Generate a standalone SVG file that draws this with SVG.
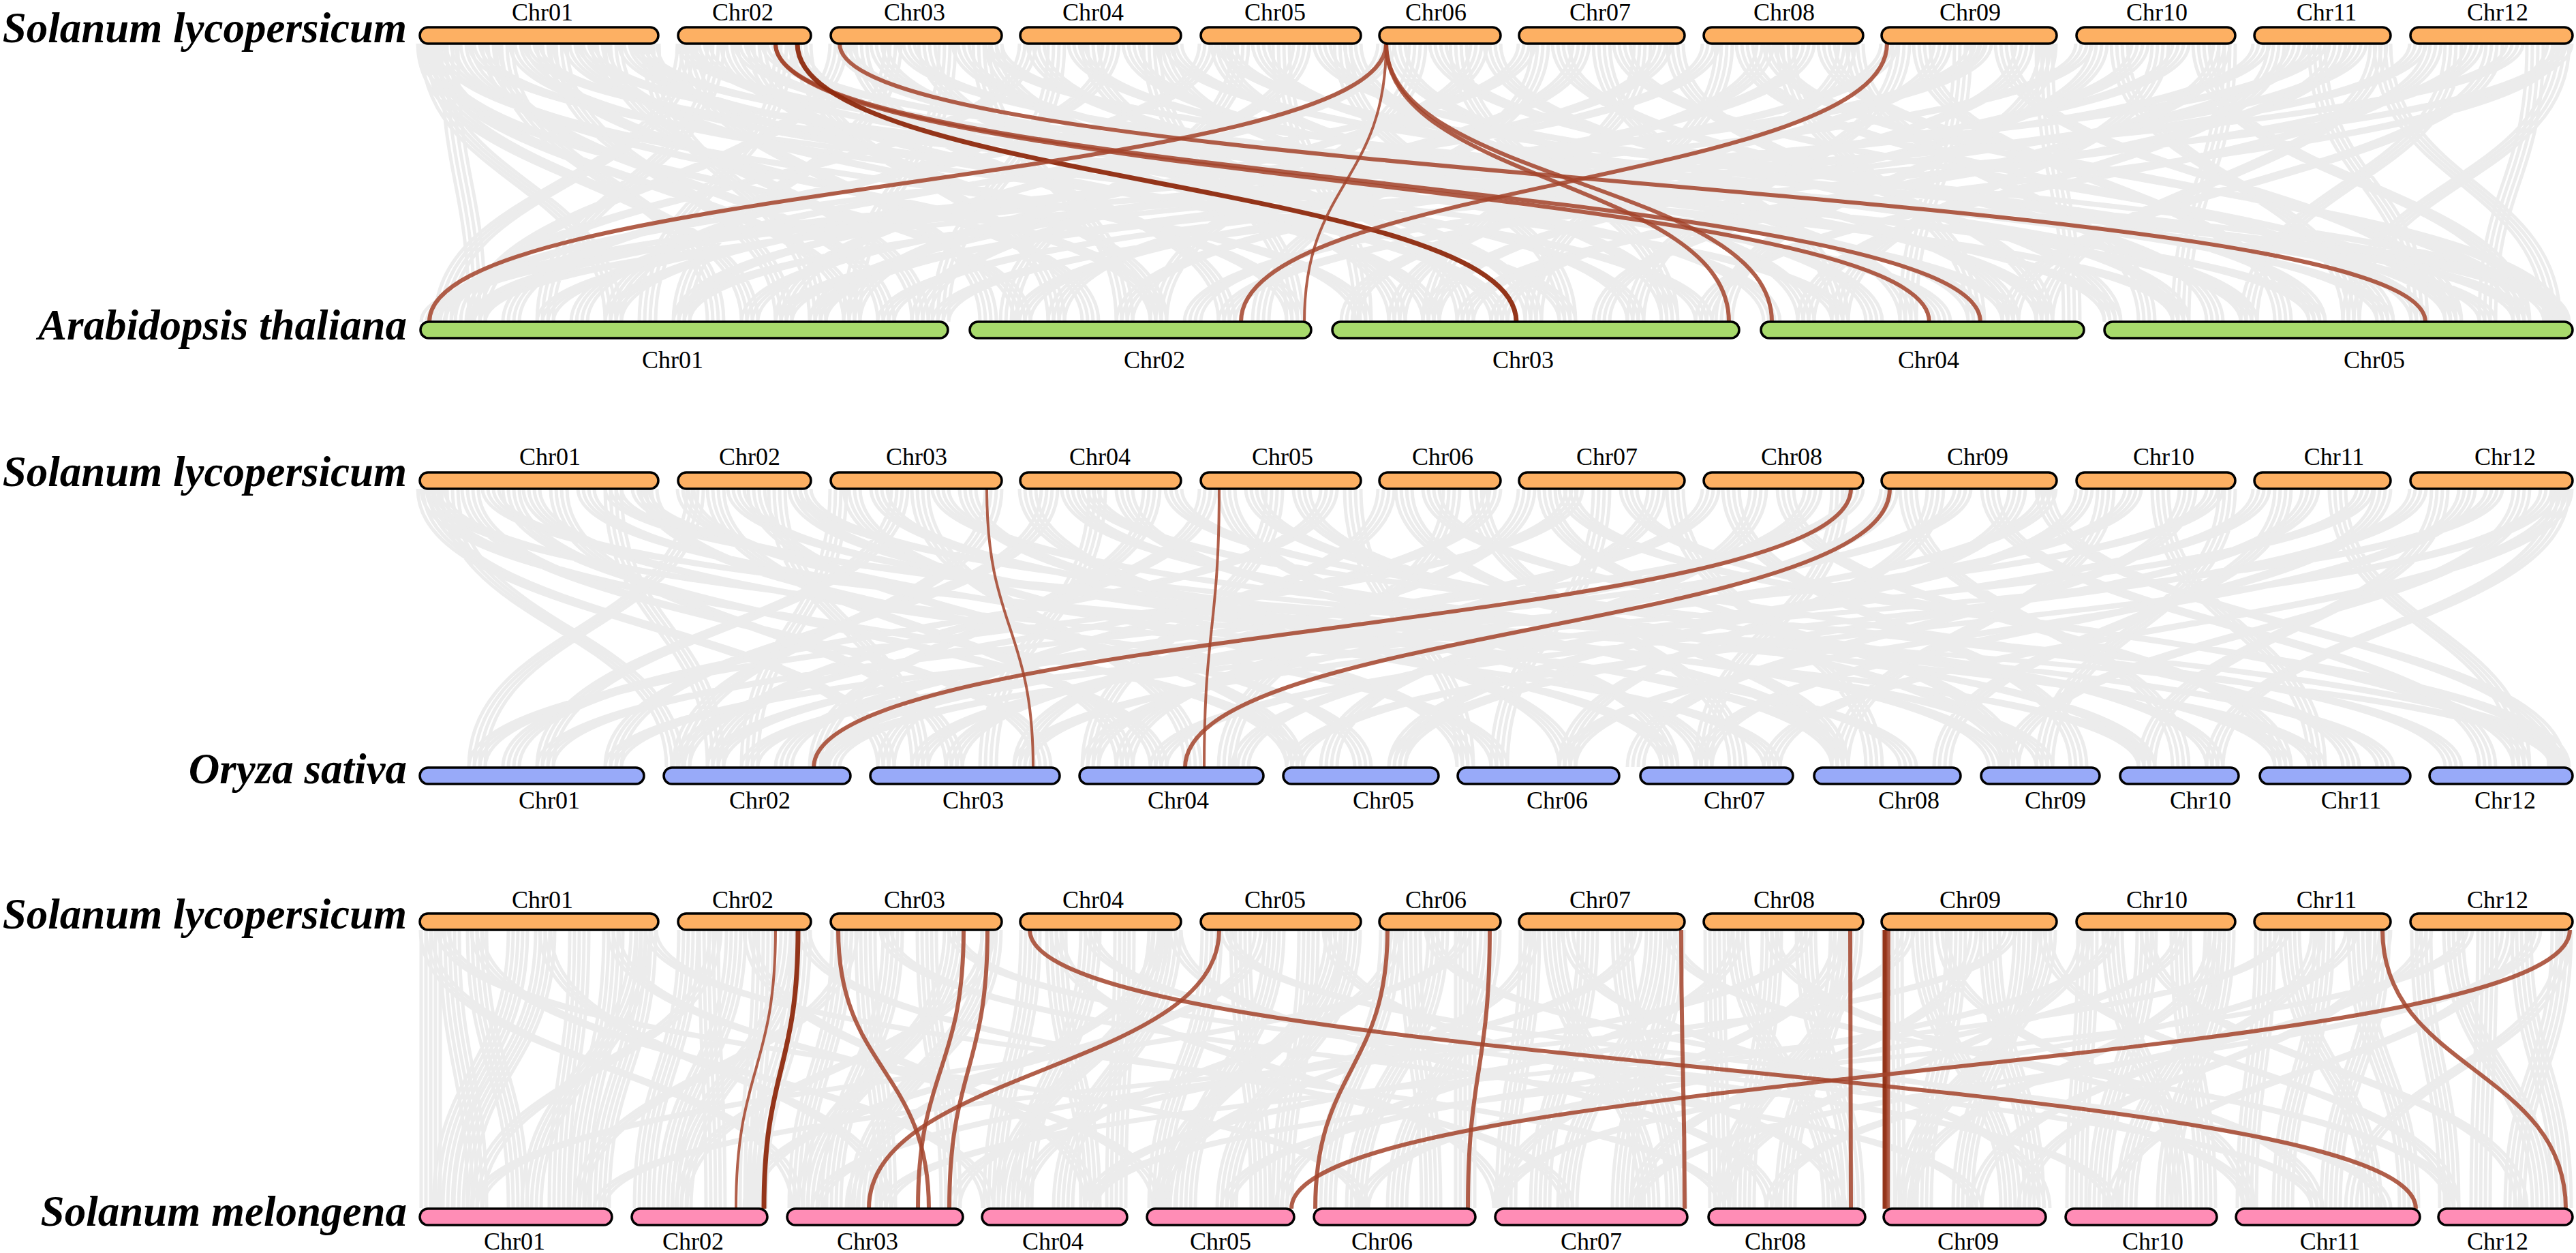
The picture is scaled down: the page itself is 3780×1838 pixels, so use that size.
<svg xmlns="http://www.w3.org/2000/svg" width="3780" height="1838" viewBox="0 0 3780 1838">
<style>
.g{fill:none;stroke:#ececec;stroke-width:5}
.b{fill:none;stroke:#a3432a;stroke-opacity:.85;stroke-width:6}
.bt{stroke-width:4}
.bd{stroke:#8e2a0e;stroke-opacity:.95;stroke-width:7}
.sl{fill:#fdb063;stroke:#000;stroke-width:3.5}
.at{fill:#a8da6c;stroke:#000;stroke-width:3.5}
.os{fill:#98aaf9;stroke:#000;stroke-width:3.5}
.sm{fill:#ff8db6;stroke:#000;stroke-width:3.5}
.cl{font-family:"Liberation Serif","Times New Roman",serif;font-size:36px;text-anchor:middle;fill:#000}
.sp{font-family:"Liberation Serif","Times New Roman",serif;font-size:63px;font-weight:bold;font-style:italic;text-anchor:end;fill:#000}
</style>
<defs>
<path id="g1" class="g" d="M625 0C625 204 1100 204 1100 408M625 0C625 204 1500 204 1500 408M630 0C630 204 900 204 900 408M640 0C640 204 1250 204 1250 408M650 0C650 204 2000 204 2000 408M660 0C660 204 700 204 700 408M680 0C680 204 1700 204 1700 408M700 0C700 204 2700 204 2700 408M720 0C720 204 1300 204 1300 408M740 0C740 204 1050 204 1050 408M760 0C760 204 2300 204 2300 408M780 0C780 204 3200 204 3200 408M800 0C800 204 1600 204 1600 408M820 0C820 204 1150 204 1150 408M840 0C840 204 2500 204 2500 408M860 0C860 204 3400 204 3400 408M880 0C880 204 1900 204 1900 408M900 0C900 204 1350 204 1350 408M920 0C920 204 2850 204 2850 408M940 0C940 204 3650 204 3650 408M955 0C955 204 1200 204 1200 408M952 0C952 204 2200 204 2200 408M1006 0C1006 204 650 204 650 408M1010 0C1010 204 1450 204 1450 408M1030 0C1030 204 2950 204 2950 408M1050 0C1050 204 800 204 800 408M1070 0C1070 204 2100 204 2100 408M1090 0C1090 204 3300 204 3300 408M1110 0C1110 204 1700 204 1700 408M1130 0C1130 204 3700 204 3700 408M1150 0C1150 204 950 204 950 408M1170 0C1170 204 2400 204 2400 408M1178 0C1178 204 1550 204 1550 408M1230 0C1230 204 700 204 700 408M1240 0C1240 204 3100 204 3100 408M1260 0C1260 204 1800 204 1800 408M1290 0C1290 204 2600 204 2600 408M1310 0C1310 204 1000 204 1000 408M1330 0C1330 204 3500 204 3500 408M1360 0C1360 204 2050 204 2050 408M1390 0C1390 204 1250 204 1250 408M1410 0C1410 204 2900 204 2900 408M1440 0C1440 204 1650 204 1650 408M1458 0C1458 204 3745 204 3745 408M1458 0C1458 204 2250 204 2250 408M1508 0C1508 204 680 204 680 408M1520 0C1520 204 2750 204 2750 408M1550 0C1550 204 1380 204 1380 408M1580 0C1580 204 3300 204 3300 408M1600 0C1600 204 2150 204 2150 408M1630 0C1630 204 900 204 900 408M1660 0C1660 204 3000 204 3000 408M1690 0C1690 204 1900 204 1900 408M1710 0C1710 204 2450 204 2450 408M1722 0C1722 204 3600 204 3600 408M1772 0C1772 204 750 204 750 408M1790 0C1790 204 2650 204 2650 408M1820 0C1820 204 1480 204 1480 408M1850 0C1850 204 3200 204 3200 408M1880 0C1880 204 2000 204 2000 408M1910 0C1910 204 1150 204 1150 408M1940 0C1940 204 3550 204 3550 408M1970 0C1970 204 2300 204 2300 408M1985 0C1985 204 2800 204 2800 408M2034 0C2034 204 850 204 850 408M2050 0C2050 204 2950 204 2950 408M2080 0C2080 204 1700 204 1700 408M2110 0C2110 204 3400 204 3400 408M2140 0C2140 204 2450 204 2450 408M2170 0C2170 204 1250 204 1250 408M2190 0C2190 204 3100 204 3100 408M2240 0C2240 204 650 204 650 408M2260 0C2260 204 1850 204 1850 408M2290 0C2290 204 3250 204 3250 408M2320 0C2320 204 1350 204 1350 408M2350 0C2350 204 2700 204 2700 408M2380 0C2380 204 3600 204 3600 408M2410 0C2410 204 2100 204 2100 408M2440 0C2440 204 1000 204 1000 408M2458 0C2458 204 3000 204 3000 408M2510 0C2510 204 900 204 900 408M2530 0C2530 204 2250 204 2250 408M2560 0C2560 204 3500 204 3500 408M2590 0C2590 204 1550 204 1550 408M2620 0C2620 204 2900 204 2900 408M2650 0C2650 204 1200 204 1200 408M2680 0C2680 204 3700 204 3700 408M2710 0C2710 204 2050 204 2050 408M2722 0C2722 204 3150 204 3150 408M2772 0C2772 204 1100 204 1100 408M2790 0C2790 204 2400 204 2400 408M2820 0C2820 204 3350 204 3350 408M2850 0C2850 204 1650 204 1650 408M2880 0C2880 204 2800 204 2800 408M2910 0C2910 204 700 204 700 408M2940 0C2940 204 3600 204 3600 408M2970 0C2970 204 1980 204 1980 408M3000 0C3000 204 3040 204 3040 408M3005 0C3005 204 2530 204 2530 408M3058 0C3058 204 800 204 800 408M3080 0C3080 204 2100 204 2100 408M3110 0C3110 204 3450 204 3450 408M3140 0C3140 204 1500 204 1500 408M3170 0C3170 204 2700 204 2700 408M3200 0C3200 204 1200 204 1200 408M3230 0C3230 204 3700 204 3700 408M3260 0C3260 204 2350 204 2350 408M3268 0C3268 204 3200 204 3200 408M3318 0C3318 204 1000 204 1000 408M3340 0C3340 204 2650 204 2650 408M3370 0C3370 204 1750 204 1750 408M3400 0C3400 204 3550 204 3550 408M3430 0C3430 204 2200 204 2200 408M3460 0C3460 204 1300 204 1300 408M3490 0C3490 204 3000 204 3000 408M3496 0C3496 204 3745 204 3745 408M3548 0C3548 204 1150 204 1150 408M3570 0C3570 204 2500 204 2500 408M3600 0C3600 204 3300 204 3300 408M3630 0C3630 204 1800 204 1800 408M3660 0C3660 204 2950 204 2950 408M3690 0C3690 204 700 204 700 408M3720 0C3720 204 3650 204 3650 408M3750 0C3750 204 2150 204 2150 408M3758 0C3758 204 3450 204 3450 408M3762 0C3762 204 1380 204 1380 408M1006 0C1006 204 3755 204 3755 408M1800 0C1800 204 3758 204 3758 408M2600 0C2600 204 3750 204 3750 408M3400 0C3400 204 630 204 630 408M2900 0C2900 204 640 204 640 408"/>
<path id="g2" class="g" d="M625 0C625 204 1300 204 1300 408M630 0C630 204 1900 204 1900 408M640 0C640 204 2600 204 2600 408M660 0C660 204 990 204 990 408M690 0C690 204 1530 204 1530 408M720 0C720 204 3150 204 3150 408M750 0C750 204 1700 204 1700 408M780 0C780 204 2200 204 2200 408M820 0C820 204 1400 204 1400 408M860 0C860 204 2800 204 2800 408M900 0C900 204 1050 204 1050 408M940 0C940 204 3400 204 3400 408M952 0C952 204 2000 204 2000 408M1006 0C1006 204 2450 204 2450 408M1020 0C1020 204 700 204 700 408M1050 0C1050 204 1650 204 1650 408M1080 0C1080 204 3000 204 3000 408M1110 0C1110 204 1900 204 1900 408M1140 0C1140 204 1350 204 1350 408M1170 0C1170 204 2700 204 2700 408M1178 0C1178 204 3500 204 3500 408M1230 0C1230 204 1100 204 1100 408M1250 0C1250 204 2150 204 2150 408M1290 0C1290 204 2930 204 2930 408M1320 0C1320 204 800 204 800 408M1350 0C1350 204 1750 204 1750 408M1380 0C1380 204 3350 204 3350 408M1420 0C1420 204 2500 204 2500 408M1458 0C1458 204 1000 204 1000 408M1508 0C1508 204 2300 204 2300 408M1540 0C1540 204 900 204 900 408M1570 0C1570 204 3150 204 3150 408M1610 0C1610 204 1450 204 1450 408M1650 0C1650 204 2700 204 2700 408M1690 0C1690 204 1200 204 1200 408M1722 0C1722 204 3600 204 3600 408M1772 0C1772 204 1050 204 1050 408M1800 0C1800 204 2450 204 2450 408M1840 0C1840 204 3250 204 3250 408M1870 0C1870 204 1600 204 1600 408M1910 0C1910 204 2950 204 2950 408M1950 0C1950 204 750 204 750 408M1985 0C1985 204 2150 204 2150 408M2034 0C2034 204 1300 204 1300 408M2060 0C2060 204 2700 204 2700 408M2100 0C2100 204 3450 204 3450 408M2130 0C2130 204 1800 204 1800 408M2170 0C2170 204 2550 204 2550 408M2190 0C2190 204 1000 204 1000 408M2240 0C2240 204 1500 204 1500 408M2270 0C2270 204 2950 204 2950 408M2310 0C2310 204 700 204 700 408M2350 0C2350 204 2200 204 2200 408M2390 0C2390 204 3700 204 3700 408M2430 0C2430 204 1650 204 1650 408M2458 0C2458 204 2750 204 2750 408M2510 0C2510 204 1150 204 1150 408M2540 0C2540 204 3050 204 3050 408M2580 0C2580 204 1950 204 1950 408M2620 0C2620 204 3350 204 3350 408M2660 0C2660 204 1400 204 1400 408M2700 0C2700 204 2500 204 2500 408M2722 0C2722 204 800 204 800 408M2772 0C2772 204 1600 204 1600 408M2800 0C2800 204 3200 204 3200 408M2840 0C2840 204 2300 204 2300 408M2880 0C2880 204 1050 204 1050 408M2920 0C2920 204 3650 204 3650 408M2960 0C2960 204 2050 204 2050 408M3005 0C3005 204 1350 204 1350 408M3058 0C3058 204 1820 204 1820 408M3090 0C3090 204 2700 204 2700 408M3130 0C3130 204 1200 204 1200 408M3170 0C3170 204 3400 204 3400 408M3210 0C3210 204 2400 204 2400 408M3250 0C3250 204 900 204 900 408M3268 0C3268 204 3000 204 3000 408M3318 0C3318 204 1500 204 1500 408M3350 0C3350 204 2850 204 2850 408M3390 0C3390 204 2050 204 2050 408M3430 0C3430 204 3700 204 3700 408M3470 0C3470 204 1100 204 1100 408M3496 0C3496 204 2500 204 2500 408M3548 0C3548 204 1700 204 1700 408M3580 0C3580 204 3150 204 3150 408M3620 0C3620 204 2300 204 2300 408M3660 0C3660 204 1220 204 1220 408M3700 0C3700 204 2950 204 2950 408M3740 0C3740 204 1900 204 1900 408M3758 0C3758 204 3250 204 3250 408M3762 0C3762 204 2600 204 2600 408M900 0C900 204 3755 204 3755 408M1600 0C1600 204 3755 204 3755 408M2300 0C2300 204 3758 204 3758 408M3000 0C3000 204 3752 204 3752 408"/>
<path id="g3s" class="g" d="M632 0C632 204 632 204 632 408M660 0C660 204 700 204 700 408M700 0C700 204 760 204 760 408M760 0C760 204 650 204 650 408M800 0C800 204 680 204 680 408M850 0C850 204 820 204 820 408M900 0C900 204 850 204 850 408M948 0C948 204 880 204 880 408M940 0C940 204 780 204 780 408M1010 0C1010 204 945 204 945 408M1040 0C1040 204 1050 204 1050 408M1080 0C1080 204 980 204 980 408M1120 0C1120 204 1100 204 1100 408M1160 0C1160 204 1000 204 1000 408M1175 0C1175 204 1110 204 1110 408M1235 0C1235 204 1172 204 1172 408M1270 0C1270 204 1300 204 1300 408M1310 0C1310 204 1220 204 1220 408M1360 0C1360 204 1395 204 1395 408M1400 0C1400 204 1185 204 1185 408M1455 0C1455 204 1260 204 1260 408M1512 0C1512 204 1458 204 1458 408M1550 0C1550 204 1600 204 1600 408M1600 0C1600 204 1500 204 1500 408M1650 0C1650 204 1638 204 1638 408M1700 0C1700 204 1472 204 1472 408M1718 0C1718 204 1560 204 1560 408M1778 0C1778 204 1700 204 1700 408M1820 0C1820 204 1850 204 1850 408M1870 0C1870 204 1740 204 1740 408M1920 0C1920 204 1882 204 1882 408M1960 0C1960 204 1710 204 1710 408M1982 0C1982 204 1800 204 1800 408M2040 0C2040 204 1945 204 1945 408M2070 0C2070 204 2100 204 2100 408M2110 0C2110 204 1990 204 1990 408M2150 0C2150 204 2150 204 2150 408M2187 0C2187 204 2050 204 2050 408M2245 0C2245 204 2210 204 2210 408M2280 0C2280 204 2420 204 2420 408M2330 0C2330 204 2260 204 2260 408M2380 0C2380 204 2460 204 2460 408M2430 0C2430 204 2300 204 2300 408M2457 0C2457 204 2380 204 2380 408M2516 0C2516 204 2523 204 2523 408M2550 0C2550 204 2690 204 2690 408M2600 0C2600 204 2560 204 2560 408M2650 0C2650 204 2720 204 2720 408M2700 0C2700 204 2620 204 2620 408M2718 0C2718 204 2530 204 2530 408M2777 0C2777 204 2780 204 2780 408M2820 0C2820 204 2950 204 2950 408M2870 0C2870 204 2820 204 2820 408M2920 0C2920 204 2985 204 2985 408M2970 0C2970 204 2880 204 2880 408M3002 0C3002 204 2795 204 2795 408M3063 0C3063 204 3047 204 3047 408M3100 0C3100 204 3200 204 3200 408M3150 0C3150 204 3080 204 3080 408M3200 0C3200 204 3237 204 3237 408M3250 0C3250 204 3120 204 3120 408M3264 0C3264 204 3180 204 3180 408M3324 0C3324 204 3297 204 3297 408M3360 0C3360 204 3480 204 3480 408M3410 0C3410 204 3350 204 3350 408M3460 0C3460 204 3535 204 3535 408M3492 0C3492 204 3420 204 3420 408M3553 0C3553 204 3594 204 3594 408M3600 0C3600 204 3730 204 3730 408M3650 0C3650 204 3640 204 3640 408M3700 0C3700 204 3759 204 3759 408M3759 0C3759 204 3690 204 3690 408"/>
<path id="g3x" class="g" d="M625 0C625 204 1170 204 1170 408M700 0C700 204 1450 204 1450 408M650 0C650 204 2000 204 2000 408M800 0C800 204 1300 204 1300 408M900 0C900 204 1700 204 1700 408M955 0C955 204 2530 204 2530 408M1050 0C1050 204 700 204 700 408M1100 0C1100 204 1600 204 1600 408M1180 0C1180 204 2300 204 2300 408M1250 0C1250 204 850 204 850 408M1300 0C1300 204 2900 204 2900 408M1400 0C1400 204 3400 204 3400 408M1450 0C1450 204 1000 204 1000 408M1550 0C1550 204 2200 204 2200 408M1600 0C1600 204 3100 204 3100 408M1700 0C1700 204 1250 204 1250 408M1725 0C1725 204 2600 204 2600 408M1800 0C1800 204 3500 204 3500 408M1850 0C1850 204 1100 204 1100 408M1950 0C1950 204 2700 204 2700 408M2050 0C2050 204 1500 204 1500 408M2100 0C2100 204 3300 204 3300 408M2150 0C2150 204 700 204 700 408M2250 0C2250 204 1700 204 1700 408M2300 0C2300 204 3000 204 3000 408M2400 0C2400 204 1400 204 1400 408M2450 0C2450 204 3600 204 3600 408M2550 0C2550 204 1880 204 1880 408M2600 0C2600 204 3400 204 3400 408M2650 0C2650 204 1200 204 1200 408M2700 0C2700 204 2200 204 2200 408M2800 0C2800 204 1600 204 1600 408M2850 0C2850 204 3300 204 3300 408M2900 0C2900 204 2400 204 2400 408M2950 0C2950 204 880 204 880 408M3000 0C3000 204 3600 204 3600 408M3060 0C3060 204 2530 204 2530 408M3100 0C3100 204 1800 204 1800 408M3150 0C3150 204 3700 204 3700 408M3200 0C3200 204 2000 204 2000 408M3250 0C3250 204 2800 204 2800 408M3350 0C3350 204 1300 204 1300 408M3400 0C3400 204 2900 204 2900 408M3450 0C3450 204 2200 204 2200 408M3500 0C3500 204 2970 204 2970 408M3560 0C3560 204 2600 204 2600 408M3620 0C3620 204 1600 204 1600 408M3680 0C3680 204 3100 204 3100 408M3720 0C3720 204 2400 204 2400 408M3765 0C3765 204 3450 204 3450 408"/>
</defs>
<rect x="0" y="0" width="3780" height="1838" fill="#fff"/>
<g id="connectors">
<g id="gray-lines">
<use href="#g1" transform="translate(-12,64)"/>
<use href="#g1" transform="translate(-4,64)"/>
<use href="#g1" transform="translate(4,64)"/>
<use href="#g1" transform="translate(12,64)"/>
<use href="#g2" transform="translate(-12,717)"/>
<use href="#g2" transform="translate(-4,717)"/>
<use href="#g2" transform="translate(4,717)"/>
<use href="#g2" transform="translate(12,717)"/>
<use href="#g3s" transform="translate(-14,1364)"/>
<use href="#g3s" transform="translate(-7,1364)"/>
<use href="#g3s" transform="translate(0,1364)"/>
<use href="#g3s" transform="translate(7,1364)"/>
<use href="#g3s" transform="translate(14,1364)"/>
<use href="#g3x" transform="translate(-8,1364)"/>
<use href="#g3x" transform="translate(0,1364)"/>
<use href="#g3x" transform="translate(8,1364)"/>
</g>
<g id="highlight-lines">
<path class="b" d="M1138 64C1138 268 2831 268 2831 472"/>
<path class="b" d="M1138 64C1138 268 2906 268 2906 472"/>
<path class="b bd" d="M1170 64C1170 268 2225 268 2225 472"/>
<path class="b" d="M1232 64C1232 268 3559 268 3559 472"/>
<path class="b" d="M2034 64C2034 268 630 268 630 472"/>
<path class="b bt" d="M2034 64C2034 268 1914 268 1914 472"/>
<path class="b" d="M2034 64C2034 268 2537 268 2537 472"/>
<path class="b" d="M2034 64C2034 268 2600 268 2600 472"/>
<path class="b" d="M2769 64C2769 268 1821 268 1821 472"/>
<path class="b bt" d="M1448 717C1448 921 1516 921 1516 1126"/>
<path class="b bt" d="M1789 717C1789 921 1767 921 1767 1126"/>
<path class="b" d="M2716 717C2716 921 1194 921 1194 1126"/>
<path class="b" d="M2773 717C2773 921 1739 921 1739 1126"/>
<path class="b bt" d="M1138 1364C1138 1569 1080 1569 1080 1773"/>
<path class="b bd" d="M1171 1364C1171 1569 1121 1569 1121 1773"/>
<path class="b" d="M1230 1364C1230 1569 1363 1569 1363 1773"/>
<path class="b" d="M1414 1364C1414 1569 1347 1569 1347 1773"/>
<path class="b" d="M1449 1364C1449 1569 1393 1569 1393 1773"/>
<path class="b" d="M1511 1364C1511 1569 3545 1569 3545 1773"/>
<path class="b" d="M1789 1364C1789 1569 1275 1569 1275 1773"/>
<path class="b" d="M2036 1364C2036 1569 1930 1569 1930 1773"/>
<path class="b" d="M2186 1364C2186 1569 2154 1569 2154 1773"/>
<path class="b" d="M2467 1364C2467 1569 2472 1569 2472 1773"/>
<path class="b" d="M2715 1364C2715 1569 2716 1569 2716 1773"/>
<path class="b bd" d="M2766 1364C2766 1569 2766 1569 2766 1773"/>
<path class="b" d="M2771 1364C2771 1569 2770 1569 2770 1773"/>
<path class="b" d="M3496 1364C3496 1569 3765 1569 3765 1773"/>
<path class="b" d="M3771 1364C3771 1569 1895 1569 1895 1773"/>
</g>
</g>
<g id="species-labels">
<text id="sp-sl1" class="sp" x="597" y="62">Solanum lycopersicum</text>
<text id="sp-at" class="sp" x="597" y="498">Arabidopsis thaliana</text>
<text id="sp-sl2" class="sp" x="597" y="713">Solanum lycopersicum</text>
<text id="sp-os" class="sp" x="597" y="1149">Oryza sativa</text>
<text id="sp-sl3" class="sp" x="597" y="1362">Solanum lycopersicum</text>
<text id="sp-sm" class="sp" x="597" y="1798">Solanum melongena</text>
</g>
<g id="panel1-sl">
<g id="p1-sl-chr01"><rect class="sl" x="616" y="40" width="350" height="24" rx="12"/><text class="cl" x="796" y="30">Chr01</text></g>
<g id="p1-sl-chr02"><rect class="sl" x="995" y="40" width="195" height="24" rx="12"/><text class="cl" x="1090" y="30">Chr02</text></g>
<g id="p1-sl-chr03"><rect class="sl" x="1219" y="40" width="251" height="24" rx="12"/><text class="cl" x="1342" y="30">Chr03</text></g>
<g id="p1-sl-chr04"><rect class="sl" x="1497" y="40" width="236" height="24" rx="12"/><text class="cl" x="1604" y="30">Chr04</text></g>
<g id="p1-sl-chr05"><rect class="sl" x="1762" y="40" width="235" height="24" rx="12"/><text class="cl" x="1871" y="30">Chr05</text></g>
<g id="p1-sl-chr06"><rect class="sl" x="2024" y="40" width="178" height="24" rx="12"/><text class="cl" x="2107" y="30">Chr06</text></g>
<g id="p1-sl-chr07"><rect class="sl" x="2229" y="40" width="243" height="24" rx="12"/><text class="cl" x="2348" y="30">Chr07</text></g>
<g id="p1-sl-chr08"><rect class="sl" x="2500" y="40" width="234" height="24" rx="12"/><text class="cl" x="2618" y="30">Chr08</text></g>
<g id="p1-sl-chr09"><rect class="sl" x="2761" y="40" width="257" height="24" rx="12"/><text class="cl" x="2891" y="30">Chr09</text></g>
<g id="p1-sl-chr10"><rect class="sl" x="3047" y="40" width="233" height="24" rx="12"/><text class="cl" x="3165" y="30">Chr10</text></g>
<g id="p1-sl-chr11"><rect class="sl" x="3308" y="40" width="200" height="24" rx="12"/><text class="cl" x="3414" y="30">Chr11</text></g>
<g id="p1-sl-chr12"><rect class="sl" x="3537" y="40" width="238" height="24" rx="12"/><text class="cl" x="3665" y="30">Chr12</text></g>
</g>
<g id="panel1-at">
<g id="at-chr01"><rect class="at" x="617" y="472" width="774" height="24" rx="12"/><text class="cl" x="987" y="540">Chr01</text></g>
<g id="at-chr02"><rect class="at" x="1423" y="472" width="501" height="24" rx="12"/><text class="cl" x="1694" y="540">Chr02</text></g>
<g id="at-chr03"><rect class="at" x="1955" y="472" width="597" height="24" rx="12"/><text class="cl" x="2235" y="540">Chr03</text></g>
<g id="at-chr04"><rect class="at" x="2584" y="472" width="474" height="24" rx="12"/><text class="cl" x="2830" y="540">Chr04</text></g>
<g id="at-chr05"><rect class="at" x="3088" y="472" width="687" height="24" rx="12"/><text class="cl" x="3484" y="540">Chr05</text></g>
</g>
<g id="panel2-sl">
<g id="p2-sl-chr01"><rect class="sl" x="616" y="693" width="350" height="24" rx="12"/><text class="cl" x="807" y="682">Chr01</text></g>
<g id="p2-sl-chr02"><rect class="sl" x="995" y="693" width="195" height="24" rx="12"/><text class="cl" x="1100" y="682">Chr02</text></g>
<g id="p2-sl-chr03"><rect class="sl" x="1219" y="693" width="251" height="24" rx="12"/><text class="cl" x="1345" y="682">Chr03</text></g>
<g id="p2-sl-chr04"><rect class="sl" x="1497" y="693" width="236" height="24" rx="12"/><text class="cl" x="1614" y="682">Chr04</text></g>
<g id="p2-sl-chr05"><rect class="sl" x="1762" y="693" width="235" height="24" rx="12"/><text class="cl" x="1882" y="682">Chr05</text></g>
<g id="p2-sl-chr06"><rect class="sl" x="2024" y="693" width="178" height="24" rx="12"/><text class="cl" x="2117" y="682">Chr06</text></g>
<g id="p2-sl-chr07"><rect class="sl" x="2229" y="693" width="243" height="24" rx="12"/><text class="cl" x="2358" y="682">Chr07</text></g>
<g id="p2-sl-chr08"><rect class="sl" x="2500" y="693" width="234" height="24" rx="12"/><text class="cl" x="2629" y="682">Chr08</text></g>
<g id="p2-sl-chr09"><rect class="sl" x="2761" y="693" width="257" height="24" rx="12"/><text class="cl" x="2902" y="682">Chr09</text></g>
<g id="p2-sl-chr10"><rect class="sl" x="3047" y="693" width="233" height="24" rx="12"/><text class="cl" x="3175" y="682">Chr10</text></g>
<g id="p2-sl-chr11"><rect class="sl" x="3308" y="693" width="200" height="24" rx="12"/><text class="cl" x="3425" y="682">Chr11</text></g>
<g id="p2-sl-chr12"><rect class="sl" x="3537" y="693" width="238" height="24" rx="12"/><text class="cl" x="3676" y="682">Chr12</text></g>
</g>
<g id="panel2-os">
<g id="os-chr01"><rect class="os" x="616" y="1126" width="329" height="24" rx="12"/><text class="cl" x="806" y="1186">Chr01</text></g>
<g id="os-chr02"><rect class="os" x="974" y="1126" width="274" height="24" rx="12"/><text class="cl" x="1115" y="1186">Chr02</text></g>
<g id="os-chr03"><rect class="os" x="1277" y="1126" width="278" height="24" rx="12"/><text class="cl" x="1428" y="1186">Chr03</text></g>
<g id="os-chr04"><rect class="os" x="1584" y="1126" width="270" height="24" rx="12"/><text class="cl" x="1729" y="1186">Chr04</text></g>
<g id="os-chr05"><rect class="os" x="1883" y="1126" width="228" height="24" rx="12"/><text class="cl" x="2030" y="1186">Chr05</text></g>
<g id="os-chr06"><rect class="os" x="2139" y="1126" width="237" height="24" rx="12"/><text class="cl" x="2285" y="1186">Chr06</text></g>
<g id="os-chr07"><rect class="os" x="2407" y="1126" width="224" height="24" rx="12"/><text class="cl" x="2545" y="1186">Chr07</text></g>
<g id="os-chr08"><rect class="os" x="2662" y="1126" width="215" height="24" rx="12"/><text class="cl" x="2801" y="1186">Chr08</text></g>
<g id="os-chr09"><rect class="os" x="2907" y="1126" width="174" height="24" rx="12"/><text class="cl" x="3016" y="1186">Chr09</text></g>
<g id="os-chr10"><rect class="os" x="3111" y="1126" width="174" height="24" rx="12"/><text class="cl" x="3229" y="1186">Chr10</text></g>
<g id="os-chr11"><rect class="os" x="3316" y="1126" width="221" height="24" rx="12"/><text class="cl" x="3450" y="1186">Chr11</text></g>
<g id="os-chr12"><rect class="os" x="3565" y="1126" width="210" height="24" rx="12"/><text class="cl" x="3676" y="1186">Chr12</text></g>
</g>
<g id="panel3-sl">
<g id="p3-sl-chr01"><rect class="sl" x="616" y="1340" width="350" height="24" rx="12"/><text class="cl" x="796" y="1332">Chr01</text></g>
<g id="p3-sl-chr02"><rect class="sl" x="995" y="1340" width="195" height="24" rx="12"/><text class="cl" x="1090" y="1332">Chr02</text></g>
<g id="p3-sl-chr03"><rect class="sl" x="1219" y="1340" width="251" height="24" rx="12"/><text class="cl" x="1342" y="1332">Chr03</text></g>
<g id="p3-sl-chr04"><rect class="sl" x="1497" y="1340" width="236" height="24" rx="12"/><text class="cl" x="1604" y="1332">Chr04</text></g>
<g id="p3-sl-chr05"><rect class="sl" x="1762" y="1340" width="235" height="24" rx="12"/><text class="cl" x="1871" y="1332">Chr05</text></g>
<g id="p3-sl-chr06"><rect class="sl" x="2024" y="1340" width="178" height="24" rx="12"/><text class="cl" x="2107" y="1332">Chr06</text></g>
<g id="p3-sl-chr07"><rect class="sl" x="2229" y="1340" width="243" height="24" rx="12"/><text class="cl" x="2348" y="1332">Chr07</text></g>
<g id="p3-sl-chr08"><rect class="sl" x="2500" y="1340" width="234" height="24" rx="12"/><text class="cl" x="2618" y="1332">Chr08</text></g>
<g id="p3-sl-chr09"><rect class="sl" x="2761" y="1340" width="257" height="24" rx="12"/><text class="cl" x="2891" y="1332">Chr09</text></g>
<g id="p3-sl-chr10"><rect class="sl" x="3047" y="1340" width="233" height="24" rx="12"/><text class="cl" x="3165" y="1332">Chr10</text></g>
<g id="p3-sl-chr11"><rect class="sl" x="3308" y="1340" width="200" height="24" rx="12"/><text class="cl" x="3414" y="1332">Chr11</text></g>
<g id="p3-sl-chr12"><rect class="sl" x="3537" y="1340" width="238" height="24" rx="12"/><text class="cl" x="3665" y="1332">Chr12</text></g>
</g>
<g id="panel3-sm">
<g id="sm-chr01"><rect class="sm" x="616" y="1773" width="282" height="24" rx="12"/><text class="cl" x="755" y="1833">Chr01</text></g>
<g id="sm-chr02"><rect class="sm" x="927" y="1773" width="199" height="24" rx="12"/><text class="cl" x="1017" y="1833">Chr02</text></g>
<g id="sm-chr03"><rect class="sm" x="1155" y="1773" width="258" height="24" rx="12"/><text class="cl" x="1273" y="1833">Chr03</text></g>
<g id="sm-chr04"><rect class="sm" x="1441" y="1773" width="213" height="24" rx="12"/><text class="cl" x="1545" y="1833">Chr04</text></g>
<g id="sm-chr05"><rect class="sm" x="1683" y="1773" width="216" height="24" rx="12"/><text class="cl" x="1791" y="1833">Chr05</text></g>
<g id="sm-chr06"><rect class="sm" x="1928" y="1773" width="237" height="24" rx="12"/><text class="cl" x="2028" y="1833">Chr06</text></g>
<g id="sm-chr07"><rect class="sm" x="2194" y="1773" width="282" height="24" rx="12"/><text class="cl" x="2335" y="1833">Chr07</text></g>
<g id="sm-chr08"><rect class="sm" x="2507" y="1773" width="230" height="24" rx="12"/><text class="cl" x="2605" y="1833">Chr08</text></g>
<g id="sm-chr09"><rect class="sm" x="2764" y="1773" width="238" height="24" rx="12"/><text class="cl" x="2888" y="1833">Chr09</text></g>
<g id="sm-chr10"><rect class="sm" x="3031" y="1773" width="222" height="24" rx="12"/><text class="cl" x="3159" y="1833">Chr10</text></g>
<g id="sm-chr11"><rect class="sm" x="3281" y="1773" width="270" height="24" rx="12"/><text class="cl" x="3419" y="1833">Chr11</text></g>
<g id="sm-chr12"><rect class="sm" x="3578" y="1773" width="197" height="24" rx="12"/><text class="cl" x="3665" y="1833">Chr12</text></g>
</g>
</svg>
